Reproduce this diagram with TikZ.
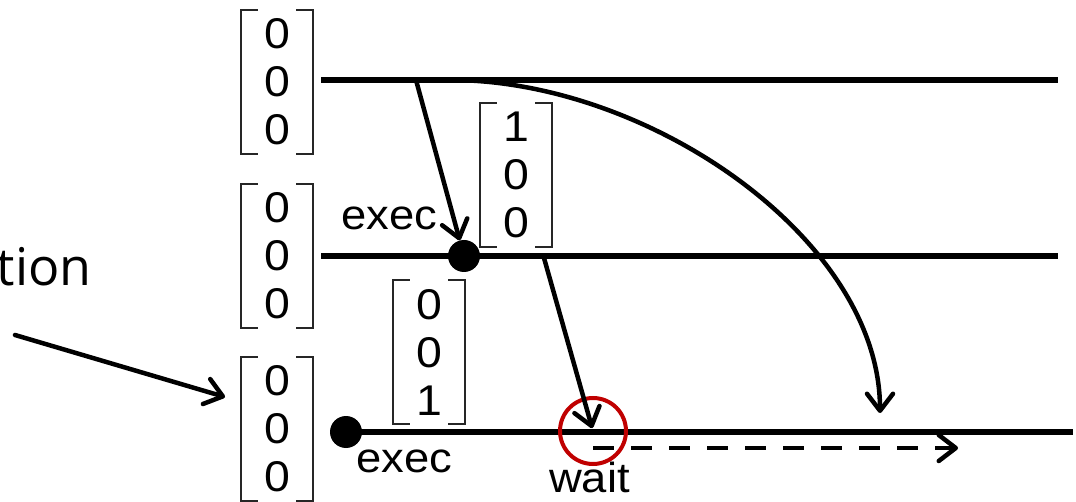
\documentclass[tikz,border=0pt]{standalone}
\usepackage{fontspec}
\setmainfont{Liberation Sans}[FakeStretch=1.08]
\newfontfamily\tionfont{Open Sans}
\usetikzlibrary{arrows.meta}
\definecolor{wred}{RGB}{192,0,0}
\newcommand\vbrak[1]{%
  \draw[brk] ([xshift=17pt]#1.north west) -- (#1.north west) -- (#1.south west) -- ([xshift=17pt]#1.south west);
  \draw[brk] ([xshift=-17pt]#1.north east) -- (#1.north east) -- (#1.south east) -- ([xshift=-17pt]#1.south east);}
\begin{document}
\begin{tikzpicture}[x=1pt,y=-1pt,
  tl/.style={line width=5.5pt},
  brk/.style={line width=2.3pt, draw=black!85},
  arr/.style={line width=4.5pt, line cap=round, line join=round, -{Straight Barb[length=17pt,width=26pt,round]}},
  vec/.style={minimum width=72pt, minimum height=144pt, inner sep=0pt, align=center, font=\fontsize{43}{48}\selectfont},
  lbl/.style={inner sep=0pt, anchor=base west, font=\fontsize{42}{48}\selectfont},
  blob/.style={circle, fill=black, minimum size=32pt, inner sep=0pt}]
\useasboundingbox (0,0) rectangle (1076,502);

% timelines
\coordinate (t0) at (321,80);  \coordinate (t1) at (1058,80);
\coordinate (m0) at (321,256); \coordinate (m1) at (1058,256);
\coordinate (b1) at (1073,432);
\draw[tl] (t0) -- (t1);
\draw[tl] (m0) -- (m1);

% dots
\node[blob] (d1) at (464,256) {};
\node[blob] (d2) at (346,432) {};
\draw[tl] (d2.center) -- (b1);

% vectors
\node[vec] (v1) at (277,82) {0\\0\\0};
\node[vec] (v2) at (277,256) {0\\0\\0};
\node[vec] (v3) at (277,429) {0\\0\\0};
\node[vec] (v4) at (516,175) {1\\0\\0};
\node[vec] (v5) at (429,352) {0\\0\\1};
\vbrak{v1}\vbrak{v2}\vbrak{v3}\vbrak{v4}\vbrak{v5}

% wait circle
\node[circle, draw=wred, line width=4pt, minimum size=66pt, inner sep=0pt] (wc) at (593,431) {};

% labels
\node[lbl] (e1) at (341,230) {exec};
\node[lbl] (e2) at (356,472) {exec};
\node[lbl] (w) at (549,492) {wait};
\node[inner sep=0pt, anchor=base east, font=\tionfont\fontsize{52}{60}\selectfont] (tion) at (92,286) {tion};

% arrows
\coordinate (a1) at (416,80);
\draw[arr] (a1) -- (d1);
\coordinate (a2) at (544,258);
\draw[arr, shorten >=3pt] (a2) -- (wc.center);
\coordinate (cs) at (450,80);
\coordinate (ce) at (880,413);
\draw[arr] (cs) .. controls (650,80) and (880,240) .. (ce);
\coordinate (ds) at (593,448);
\coordinate (de) at (958,448);
\draw[line width=4.5pt, dash pattern=on 21pt off 17pt, -{Straight Barb[length=17pt,width=26pt,round]}] (ds) -- (de);
\coordinate (ls) at (15,335);
\coordinate (lt) at (225,397);
\draw[arr] (ls) -- (lt);
\end{tikzpicture}
\end{document}
